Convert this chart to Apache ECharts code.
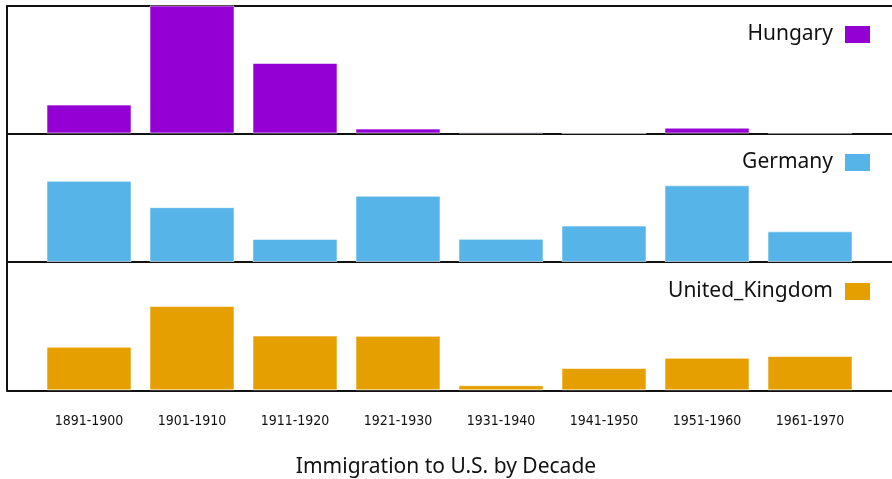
<!DOCTYPE html>
<html>
<head>
<meta charset="utf-8">
<script src="https://cdn.jsdelivr.net/npm/echarts@6/dist/echarts.min.js"></script>
<style>
  html, body { margin: 0; padding: 0; background: #fff; }
  #chart { width: 892px; height: 479px; }
</style>
</head>
<body>
<div id="chart"></div>
<script>
// immigration to the U.S. by decade of arrival
const decades = ["1891-1900", "1901-1910", "1911-1920", "1921-1930",
  "1931-1940", "1941-1950", "1951-1960", "1961-1970"];
const hungary = [181288, 808511, 442693, 30680, 7861, 3469, 36637, 5401];
const germany = [505152, 341498, 143945, 412202, 144000, 226578, 477765, 190796];
const unitedKingdom = [271538, 525950, 341408, 339570, 31572, 139306, 202824, 213822];

const countries = ["Hungary", "Germany", "United_Kingdom"];
const values = [hungary, germany, unitedKingdom];
const colors = ["#9400d3", "#56b4e9", "#e69f00"];
const yMax = 800000;

const panelTop = [6, 133.5, 262];
const panelHeight = [127.5, 128.5, 128.3];
const legendTop = [22, 150, 279];

const chart = echarts.init(document.getElementById("chart"));

const grid = [];
const xAxis = [];
const yAxis = [];
const series = [];
const legend = [];
const lineStyle = { color: "#111", width: 2 };

countries.forEach((name, i) => {
  // bars
  grid.push({ left: 37.5, width: 824, top: panelTop[i], height: panelHeight[i] });
  xAxis.push({
    type: "category", gridIndex: 2 * i, data: decades,
    axisLine: { show: false }, axisTick: { show: false },
    axisLabel: {
      show: i === 2, margin: 24, color: "#111",
      fontFamily: "DejaVu Sans Condensed, sans-serif", fontSize: 14
    }
  });
  yAxis.push({
    type: "value", gridIndex: 2 * i, min: 0, max: yMax,
    axisLine: { show: false }, axisTick: { show: false },
    axisLabel: { show: false }, splitLine: { show: false }
  });
  series.push({
    name: name, type: "bar", xAxisIndex: 2 * i, yAxisIndex: 2 * i,
    data: values[i], barWidth: 85, clip: true,
    itemStyle: { color: colors[i], borderColor: "rgba(255,255,255,0.55)", borderWidth: 1 }
  });

  // panel frame
  grid.push({ left: 7, right: 0, top: panelTop[i], height: panelHeight[i] });
  xAxis.push({
    type: "value", gridIndex: 2 * i + 1, min: 0, max: 1,
    axisLine: { show: true, lineStyle: lineStyle },
    axisTick: { show: false }, axisLabel: { show: false }, splitLine: { show: false }
  });
  yAxis.push({
    type: "value", gridIndex: 2 * i + 1, min: 0, max: 1,
    axisLine: { show: true, lineStyle: lineStyle },
    axisTick: { show: false }, axisLabel: { show: false }, splitLine: { show: false }
  });

  legend.push({
    data: [name], right: 22, top: legendTop[i] + 2, padding: 0,
    align: "right", icon: "rect", itemWidth: 25, itemHeight: 17,
    selectedMode: false,
    itemStyle: { borderWidth: 0 },
    textStyle: { fontFamily: "Noto Sans", fontSize: 21, color: "#111", padding: [0, 7, 0, 0] }
  });
});

// top line of the first panel
xAxis.push({
  type: "value", gridIndex: 1, position: "top", min: 0, max: 1,
  axisLine: { show: true, lineStyle: lineStyle },
  axisTick: { show: false }, axisLabel: { show: false }, splitLine: { show: false }
});

const option = {
  animation: false,
  title: {
    text: "Immigration to U.S. by Decade",
    left: "center", top: 452,
    textStyle: { fontFamily: "Noto Sans", fontSize: 21, fontWeight: "normal", color: "#111" }
  },
  legend: legend,
  grid: grid,
  xAxis: xAxis,
  yAxis: yAxis,
  series: series
};

chart.setOption(option);
window.addEventListener("resize", chart.resize);
</script>
</body>
</html>
